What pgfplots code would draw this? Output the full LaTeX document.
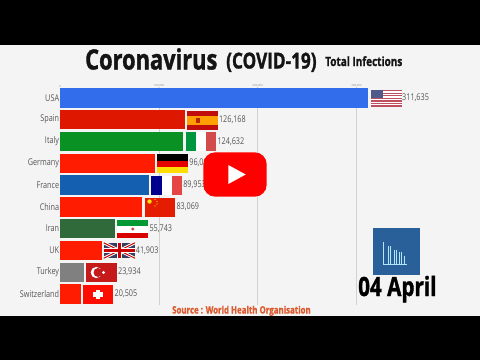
\documentclass[border=0pt]{standalone}
\usepackage{pgfplots}
\pgfplotsset{compat=1.18}
\usepackage{fontspec}
\setmainfont{Open Sans}
\newfontfamily\titlef[FakeStretch=0.78,BoldFeatures={FakeBold=1.2}]{Open Sans}
\begin{document}
\begin{tikzpicture}[x=1pt,y=-1pt]
\definecolor{bg}{HTML}{F4F4F4}
\definecolor{txt}{HTML}{555555}
\definecolor{usred}{HTML}{BE4F60}
\definecolor{usblue}{HTML}{4F5A8A}
\fill[black] (0,0) rectangle (480,360);
\fill[bg] (0,44.5) rectangle (480,315.5);
\begin{axis}[
  at={(60.3pt,-304.9pt)}, anchor=south west,
  scale only axis, width=316pt, height=218pt,
  xmin=0, xmax=320000, ymin=-0.5, ymax=9.5, y dir=reverse,
  clip=false,
  axis x line*=top, axis y line*=left,
  x axis line style={draw=none,-}, y axis line style={draw=none,-},
  major tick length=0pt,
  xmajorgrids, grid style={draw=black!18, line width=0.7pt},
  xtick={100000,200000,300000},
  extra x ticks={0}, extra x tick labels={0}, extra x tick style={grid=none},
  scaled x ticks=false,
  xticklabels={{100,000},{200,000},{300,000}},
  x tick label style={font=\fontsize{2.8}{3}\selectfont, text=black!45, inner sep=0pt, yshift=-0.5pt},
  ytick={0,...,9},
  yticklabels={USA,Spain,Italy,Germany,France,China,Iran,UK,Turkey,Switzerland},
  y tick label style={font=\titlef\fontsize{9.3}{10}\selectfont, text=txt, inner sep=0pt, xshift=-1pt},
  xbar, bar width=19.4pt, bar shift=0pt,
  nodes near coords, point meta=x,
  every node near coord/.append style={font=\titlef\fontsize{9.3}{10}\selectfont, text=txt, inner sep=0pt, xshift=34pt, anchor=west, /pgf/number format/assume math mode=true, /pgf/number format/fixed, /pgf/number format/precision=0},
]
\addplot[xbar, fill={rgb,255:red,50;green,110;blue,235}, draw=none] coordinates {(311635,0)};
\addplot[xbar, fill={rgb,255:red,222;green,24;blue,0}, draw=none] coordinates {(126168,1)};
\addplot[xbar, fill={rgb,255:red,10;green,145;blue,35}, draw=none] coordinates {(124632,2)};
\addplot[xbar, fill={rgb,255:red,255;green,28;blue,0}, draw=none] coordinates {(96092,3)};
\addplot[xbar, fill={rgb,255:red,20;green,95;blue,175}, draw=none] coordinates {(89953,4)};
\addplot[xbar, fill={rgb,255:red,255;green,28;blue,0}, draw=none] coordinates {(83069,5)};
\addplot[xbar, fill={rgb,255:red,48;green,105;blue,58}, draw=none] coordinates {(55743,6)};
\addplot[xbar, fill={rgb,255:red,255;green,28;blue,0}, draw=none] coordinates {(41903,7)};
\addplot[xbar, fill={rgb,255:red,128;green,128;blue,128}, draw=none] coordinates {(23934,8)};
\addplot[xbar, fill={rgb,255:red,255;green,28;blue,0}, draw=none] coordinates {(20505,9)};
\end{axis}
% title
\node[anchor=base west, inner sep=0pt, font=\titlef\fontsize{28}{30}\selectfont\bfseries, text=black!92] at (85,69.5) {Coronavirus};
\node[anchor=base west, inner sep=0pt, font=\titlef\fontsize{22}{24}\selectfont\bfseries, text=black!92] at (226,68.5) {(COVID-19)};
\node[anchor=base west, inner sep=0pt, font=\titlef\fontsize{12.8}{14}\selectfont\bfseries, text=black!92] at (325,66) {Total Infections};
% USA
\fill[white] (371,90) rectangle (401.7,106.7);
\foreach \i in {0,2,4,6,8,10,12}{
  \fill[usred] (371,{90+\i*16.7/13}) rectangle (401.7,{90+(\i+1)*16.7/13});
}
\fill[usblue] (371,90) rectangle (383,98);
% Spain
\fill[red!75!black!95!white] (187.3,110.7) rectangle (218,130);
\fill[orange!75!yellow] (187.3,115.5) rectangle (218,125.2);
\fill[red!60!black!70!orange] (195.5,117.5) rectangle (199.5,123);
% Italy
\fill[green!45!black!75!cyan] (185.7,132.3) rectangle (196,151.3);
\fill[white] (196,132.3) rectangle (206,151.3);
\fill[red!75!black!70!white] (206,132.3) rectangle (216.3,151.3);
% Germany
\fill[black] (157.3,154.3) rectangle (188.3,160.6);
\fill[red!90!black] (157.3,160.6) rectangle (188.3,166.9);
\fill[yellow!80!orange] (157.3,166.9) rectangle (188.3,173);
% France
\fill[blue!55!black] (151.3,175.7) rectangle (161.5,195);
\fill[white] (161.5,175.7) rectangle (172,195);
\fill[red!70!white!90!black] (172,175.7) rectangle (182.3,195);
% China
\fill[red!75!orange!90!black] (144.7,197.7) rectangle (175.3,217);
\fill[yellow!90!orange] (149.5,201.5) circle (2.2);
\foreach \a/\b in {155/199.5,157/201.5,157/204,155/206}{\fill[yellow!90!orange] (\a,\b) circle (0.7);}
% Iran
\fill[white] (117.3,220) rectangle (148.3,238);
\fill[green!50!black!80!cyan] (117.3,220) rectangle (148.3,225.5);
\fill[red!85!black] (117.3,232.7) rectangle (148.3,238);
\fill[red!70!black!70!white] (132.8,229) circle (1.7);
% UK
\begin{scope}
\clip (103.7,242.7) rectangle (135,258.3);
\fill[usblue!70!black] (103.7,242.7) rectangle (135,258.3);
\draw[white,line width=3pt] (103.7,242.7) -- (135,258.3) (103.7,258.3) -- (135,242.7);
\draw[red!80!black,line width=1pt] (103.7,242.7) -- (135,258.3) (103.7,258.3) -- (135,242.7);
\draw[white,line width=5pt] (119.3,242.7) -- (119.3,258.3) (103.7,250.5) -- (135,250.5);
\draw[red!80!black,line width=3pt] (119.3,242.7) -- (119.3,258.3) (103.7,250.5) -- (135,250.5);
\end{scope}
% Turkey
\fill[red!75!black!90!white] (86.3,263) rectangle (116.7,282);
\fill[white] (96.3,272.5) circle (5.6);
\fill[red!75!black!90!white] (98,272.5) circle (4.5);
\fill[white] (103.5,272.5) circle (1.6);
% Switzerland
\fill[red!90!orange] (82.7,284.7) rectangle (113.3,304);
\fill[white] (95.8,289.5) rectangle (100.2,299.2);
\fill[white] (93,292.2) rectangle (103,296.6);
% play button
\fill[red, rounded corners=12pt] (203.3,152.3) rectangle (266.7,196.7);
\fill[white] (228.3,165) -- (245.7,174.5) -- (228.3,184) -- cycle;
% icon
\fill[fill={rgb,255:red,42;green,96;blue,153}] (372.7,228.3) rectangle (420,275);
\draw[white!70!cyan, line width=0.7pt] (383.3,241.7) -- (383.3,264.4) -- (407.3,264.4)
  (388.3,246) -- (388.3,264.4) (390,246) -- (390,264.4)
  (394,249.5) -- (394,264.4) (396,249.5) -- (396,264.4)
  (399.3,252) -- (399.3,264.4) (401,252) -- (401,264.4)
  (404.7,256) -- (404.7,264.4);
% date
\node[anchor=base west, inner sep=0pt, font=\titlef\fontsize{26.5}{28}\selectfont\bfseries, text=black] at (358,296) {04 April};
% source
\node[anchor=base west, inner sep=0pt, font=\titlef\fontsize{10.1}{12}\selectfont\bfseries, text={rgb,255:red,220;green,90;blue,45}] at (172,313.5) {Source : World Health Organisation};
\end{tikzpicture}
\end{document}
